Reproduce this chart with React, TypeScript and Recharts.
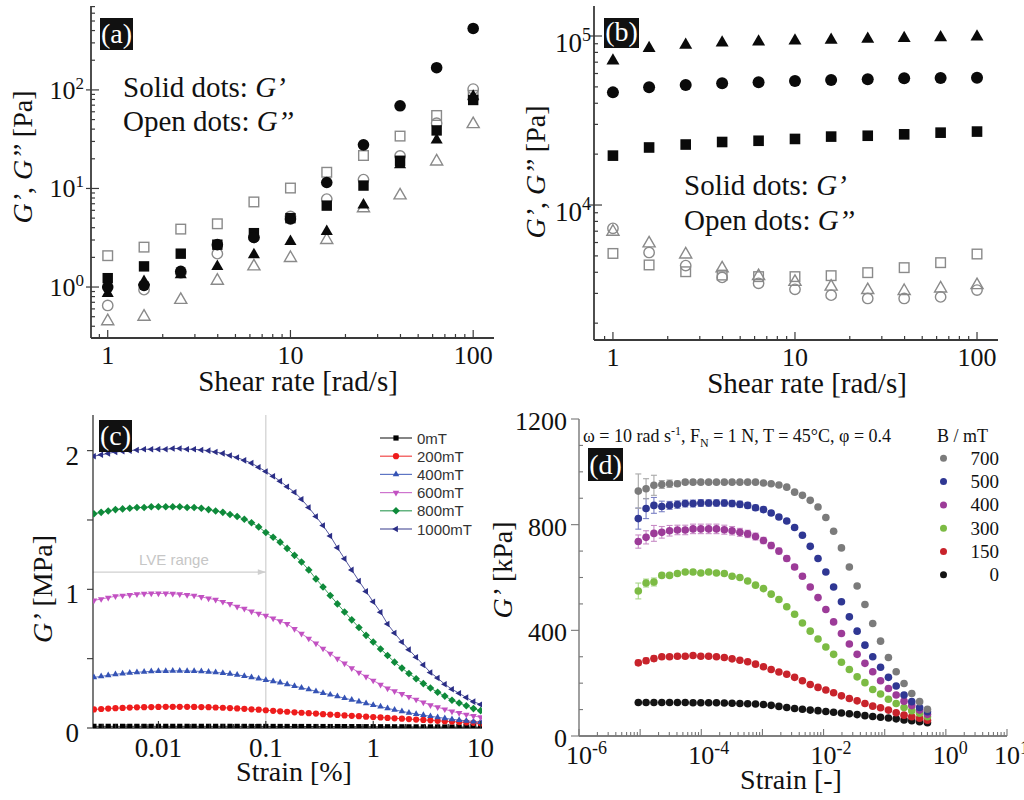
import React from 'react';
import { ScatterChart, Scatter, XAxis, YAxis, ErrorBar, ReferenceLine } from 'recharts';

const SERIF = '"Liberation Serif", "Times New Roman", Times, serif';
const SANS = '"Liberation Sans", Arial, Helvetica, sans-serif';

// ---------------- Panel (a) / (b): shear-rate sweeps ----------------
const SHEAR_RATE = [1, 1.58, 2.51, 3.98, 6.31, 10, 15.8, 25.1, 39.8, 63.1, 100];

const A_GP_CIRCLE = [1.0, 1.04, 1.44, 2.69, 3.18, 4.9, 11.5, 27.7, 69, 168, 420];
const A_GP_SQUARE = [1.23, 1.62, 2.18, 2.69, 3.52, 5.0, 6.7, 10.7, 19.1, 38.8, 79];
const A_GP_TRI = [0.86, 1.14, 1.33, 1.62, 2.13, 2.9, 3.66, 6.8, 17.4, 31, 86];
const A_GPP_CIRCLE = [0.65, 0.94, 1.39, 2.18, 3.2, 5.2, 7.8, 12.3, 21.4, 46, 102];
const A_GPP_SQUARE = [2.08, 2.54, 3.87, 4.38, 7.3, 10.1, 14.6, 21.6, 34, 55, 88];
const A_GPP_TRI = [0.45, 0.5, 0.74, 1.16, 1.62, 1.97, 3.0, 6.3, 8.5, 18.8, 45];

const B_GP_TRI = [71500, 84500, 88400, 91300, 92600, 93900, 94800, 96000, 97100, 98000, 99000];
const B_GP_CIRCLE = [46400, 49800, 51300, 52500, 53200, 54200, 54900, 55400, 56200, 56500, 56700];
const B_GP_SQUARE = [19600, 21900, 22800, 23600, 24000, 24600, 25400, 25700, 26200, 26800, 27200];
const B_GPP_CIRCLE = [7280, 5240, 4380, 3730, 3440, 3170, 2930, 2800, 2800, 2860, 3140];
const B_GPP_TRI = [6950, 5930, 5100, 4220, 3800, 3510, 3290, 3140, 3100, 3210, 3360];
const B_GPP_SQUARE = [5170, 4420, 4030, 3850, 3770, 3770, 3820, 3980, 4260, 4560, 5130];

const AB_XTICKS = [0.9, 1, 2, 3, 4, 5, 6, 7, 8, 9, 10, 20, 30, 40, 50, 60, 70, 80, 90, 100];
const AB_XMAJOR = [1, 10, 100];
const A_YTICKS = [0.4, 0.5, 0.6, 0.7, 0.8, 0.9, 1, 2, 3, 4, 5, 6, 7, 8, 9, 10, 20, 30, 40, 50, 60, 70, 80, 90, 100, 200, 300, 400, 500, 600, 700];
const A_YMAJOR = [1, 10, 100];
const B_YTICKS = [2000, 3000, 4000, 5000, 6000, 7000, 8000, 9000, 10000, 20000, 30000, 40000, 50000, 60000, 70000, 80000, 90000, 100000];
const B_YMAJOR = [10000, 100000];

// ---------------- Panel (c): strain sweeps at various fields ----------------
const STRAIN_C = [0.00251, 0.00293, 0.00341, 0.00398, 0.00464, 0.00541, 0.00631, 0.00736, 0.00858, 0.01, 0.0117, 0.0136, 0.0158, 0.0185, 0.0215, 0.0251, 0.0293, 0.0341, 0.0398, 0.0464, 0.0541, 0.0631, 0.0736, 0.0858, 0.1, 0.117, 0.136, 0.158, 0.185, 0.215, 0.251, 0.293, 0.341, 0.398, 0.464, 0.541, 0.631, 0.736, 0.858, 1, 1.17, 1.36, 1.58, 1.85, 2.15, 2.51, 2.93, 3.41, 3.98, 4.64, 5.41, 6.31, 7.36, 8.58, 10];
const C_1000 = [1.96, 1.97, 1.98, 1.99, 1.995, 2.0, 2.005, 2.01, 2.01, 2.01, 2.01, 2.015, 2.015, 2.01, 2.01, 2.005, 2.0, 1.99, 1.98, 1.965, 1.95, 1.93, 1.91, 1.88, 1.85, 1.815, 1.78, 1.74, 1.70, 1.65, 1.59, 1.525, 1.46, 1.385, 1.30, 1.22, 1.14, 1.06, 0.985, 0.91, 0.835, 0.75, 0.685, 0.62, 0.565, 0.51, 0.455, 0.40, 0.36, 0.315, 0.28, 0.25, 0.22, 0.19, 0.17];
const C_800 = [1.545, 1.555, 1.565, 1.575, 1.58, 1.585, 1.59, 1.59, 1.595, 1.595, 1.595, 1.595, 1.595, 1.59, 1.59, 1.585, 1.575, 1.565, 1.555, 1.54, 1.525, 1.505, 1.48, 1.45, 1.41, 1.375, 1.34, 1.295, 1.245, 1.197, 1.14, 1.075, 1.017, 0.955, 0.895, 0.837, 0.78, 0.725, 0.668, 0.62, 0.57, 0.523, 0.475, 0.432, 0.393, 0.355, 0.32, 0.288, 0.258, 0.23, 0.20, 0.18, 0.16, 0.14, 0.125];
const C_600 = [0.92, 0.93, 0.94, 0.95, 0.955, 0.96, 0.965, 0.968, 0.97, 0.97, 0.97, 0.968, 0.965, 0.96, 0.955, 0.945, 0.935, 0.925, 0.91, 0.895, 0.875, 0.86, 0.84, 0.825, 0.81, 0.79, 0.77, 0.75, 0.715, 0.68, 0.645, 0.61, 0.573, 0.537, 0.50, 0.465, 0.432, 0.40, 0.37, 0.342, 0.313, 0.285, 0.265, 0.245, 0.225, 0.205, 0.185, 0.165, 0.15, 0.135, 0.12, 0.108, 0.097, 0.087, 0.078];
const C_400 = [0.365, 0.372, 0.38, 0.387, 0.393, 0.398, 0.402, 0.405, 0.408, 0.41, 0.411, 0.412, 0.412, 0.411, 0.41, 0.408, 0.405, 0.401, 0.396, 0.39, 0.383, 0.375, 0.366, 0.356, 0.346, 0.337, 0.327, 0.315, 0.303, 0.29, 0.278, 0.265, 0.252, 0.24, 0.228, 0.215, 0.203, 0.19, 0.178, 0.166, 0.154, 0.142, 0.131, 0.12, 0.11, 0.101, 0.093, 0.085, 0.077, 0.07, 0.063, 0.057, 0.052, 0.047, 0.043];
const C_200 = [0.134, 0.137, 0.14, 0.143, 0.145, 0.147, 0.149, 0.15, 0.151, 0.152, 0.153, 0.153, 0.153, 0.153, 0.152, 0.151, 0.15, 0.148, 0.146, 0.144, 0.141, 0.138, 0.135, 0.132, 0.128, 0.124, 0.12, 0.117, 0.113, 0.11, 0.107, 0.104, 0.1, 0.097, 0.094, 0.091, 0.088, 0.085, 0.082, 0.079, 0.076, 0.073, 0.07, 0.067, 0.064, 0.061, 0.058, 0.055, 0.052, 0.049, 0.046, 0.043, 0.04, 0.037, 0.034];
const C_0 = [0.012, 0.012, 0.012, 0.012, 0.012, 0.012, 0.012, 0.012, 0.012, 0.012, 0.012, 0.012, 0.012, 0.012, 0.012, 0.012, 0.012, 0.012, 0.012, 0.012, 0.0118, 0.0117, 0.0116, 0.0115, 0.0114, 0.0113, 0.0112, 0.0111, 0.011, 0.0109, 0.0108, 0.0107, 0.0106, 0.0105, 0.0104, 0.0102, 0.01, 0.0098, 0.0096, 0.0094, 0.0092, 0.009, 0.0088, 0.0086, 0.0084, 0.0082, 0.008, 0.0078, 0.0076, 0.0074, 0.0072, 0.007, 0.0068, 0.0066, 0.0064];
const C_XTICKS = [0.003, 0.004, 0.005, 0.006, 0.007, 0.008, 0.009, 0.01, 0.02, 0.03, 0.04, 0.05, 0.06, 0.07, 0.08, 0.09, 0.1, 0.2, 0.3, 0.4, 0.5, 0.6, 0.7, 0.8, 0.9, 1, 2, 3, 4, 5, 6, 7, 8, 9, 10];
const C_XMAJOR = [0.01, 0.1, 1, 10];
const C_YTICKS = [0, 0.5, 1, 1.5, 2];
const C_YMAJOR = [0, 1, 2];
const C_LEGEND = ['0mT', '200mT', '400mT', '600mT', '800mT', '1000mT'];

// ---------------- Panel (d): strain sweeps, B / mT ----------------
const STRAIN_D = [9.33e-6, 1.25e-5, 1.68e-5, 2.26e-5, 3.03e-5, 4.07e-5, 5.46e-5, 7.33e-5, 9.83e-5, 1.32e-4, 1.77e-4, 2.38e-4, 3.19e-4, 4.28e-4, 5.74e-4, 7.71e-4, 1.04e-3, 1.39e-3, 1.86e-3, 2.5e-3, 3.36e-3, 4.51e-3, 6.05e-3, 8.11e-3, 1.09e-2, 1.46e-2, 1.96e-2, 2.64e-2, 3.54e-2, 4.75e-2, 6.37e-2, 8.55e-2, 0.115, 0.154, 0.207, 0.277, 0.372, 0.5];
const D_700 = [927, 936, 949, 952, 955, 955, 961, 961, 961, 961, 961, 961, 961, 961, 961, 961, 958, 955, 950, 942, 923, 911, 892, 867, 827, 775, 712, 640, 568, 498, 426, 359, 297, 243, 199, 161, 130, 101];
const D_500 = [823, 861, 873, 869, 873, 876, 880, 880, 882, 882, 882, 882, 880, 877, 873, 864, 857, 844, 829, 814, 789, 760, 718, 672, 621, 564, 508, 451, 397, 344, 300, 260, 222, 189, 155, 130, 108, 92];
const D_400 = [736, 752, 767, 771, 777, 780, 780, 784, 784, 784, 784, 781, 777, 771, 765, 755, 740, 721, 700, 672, 640, 605, 564, 524, 479, 432, 388, 348, 309, 275, 243, 209, 180, 155, 132, 115, 98, 82];
const D_300 = [549, 579, 583, 608, 608, 615, 621, 621, 617, 621, 617, 615, 605, 600, 587, 571, 558, 537, 517, 489, 461, 428, 397, 367, 337, 309, 279, 252, 224, 202, 176, 159, 139, 123, 108, 96, 86, 73];
const D_150 = [277, 285, 293, 300, 300, 302, 302, 305, 302, 302, 300, 297, 292, 287, 281, 272, 262, 252, 242, 234, 222, 209, 195, 184, 174, 164, 152, 142, 133, 123, 113, 107, 98, 88, 79, 73, 67, 60];
const D_0 = [127, 127, 127, 127, 127, 127, 127, 126, 126, 126, 126, 125, 124, 123, 122, 121, 119, 116, 112, 108, 104, 101, 98, 96, 93, 90, 87, 84, 81, 77, 74, 71, 68, 65, 61, 58, 54, 50];
const E_700 = [65, 38, 38, 15, 14, 10, 8, 7, 6, 6, 6, 5, 5, 5, 5, 5, 5, 4, 4, 4, 3, 3, 3, 3, 3, 3, 3, 3, 3, 3, 3, 3, 3, 3, 3, 3, 3, 3];
const E_500 = [40, 38, 30, 20, 15, 14, 13, 13, 13, 12, 12, 12, 12, 12, 11, 10, 10, 9, 8, 7, 6, 5, 5, 4, 4, 4, 3, 3, 3, 3, 3, 3, 3, 3, 3, 3, 3, 3];
const E_400 = [25, 25, 30, 22, 20, 18, 18, 18, 18, 18, 18, 17, 16, 15, 14, 13, 12, 12, 11, 10, 9, 8, 7, 6, 5, 5, 4, 4, 4, 3, 3, 3, 3, 3, 3, 3, 3, 3];
const E_300 = [30, 15, 15, 8, 7, 6, 6, 5, 5, 5, 5, 5, 5, 5, 4, 4, 4, 4, 4, 4, 3, 3, 3, 3, 3, 3, 3, 3, 3, 3, 3, 3, 3, 3, 3, 3, 3, 3];
const E_150 = [10, 10, 10, 8, 8, 7, 7, 7, 7, 7, 6, 6, 6, 6, 5, 5, 5, 5, 4, 4, 4, 4, 3, 3, 3, 3, 3, 3, 3, 3, 3, 3, 3, 3, 3, 3, 3, 3];
const E_0 = [3, 3, 3, 3, 3, 3, 3, 3, 3, 3, 3, 3, 3, 3, 3, 3, 3, 3, 3, 3, 3, 3, 3, 3, 3, 3, 3, 3, 3, 3, 3, 3, 3, 3, 3, 3, 3, 3];
const D_XTICKS = [1e-6, 2e-6, 3e-6, 4e-6, 5e-6, 6e-6, 7e-6, 8e-6, 9e-6, 1e-5, 2e-5, 3e-5, 4e-5, 5e-5, 6e-5, 7e-5, 8e-5, 9e-5, 1e-4, 2e-4, 3e-4, 4e-4, 5e-4, 6e-4, 7e-4, 8e-4, 9e-4, 1e-3, 2e-3, 3e-3, 4e-3, 5e-3, 6e-3, 7e-3, 8e-3, 9e-3, 0.01, 0.02, 0.03, 0.04, 0.05, 0.06, 0.07, 0.08, 0.09, 0.1, 0.2, 0.3, 0.4, 0.5, 0.6, 0.7, 0.8, 0.9, 1, 2, 3, 4, 5, 6, 7, 8, 9, 10];
const D_XMAJOR = [1e-6, 1e-5, 1e-4, 1e-3, 0.01, 0.1, 1, 10];
const D_XLABELED = [1e-6, 1e-4, 1e-2, 1, 10];
const D_YTICKS = [0, 100, 200, 300, 400, 500, 600, 700, 800, 900, 1000, 1100, 1200];
const D_YMAJOR = [0, 400, 800, 1200];
const D_LEGEND = ['700', '500', '400', '300', '150', '0'];

// ---------------- helpers ----------------
const pts = (xs: number[], ys: number[]) => xs.map((x, i) => ({ x, y: ys[i] }));
const ptsE = (xs: number[], ys: number[], es: number[]) => xs.map((x, i) => ({ x, y: ys[i], e: es[i] }));

function Mark({ cx, cy, kind, r, fill, stroke, sw }: any) {
  if (cx == null || cy == null) return null;
  const c = { fill, stroke: stroke || 'none', strokeWidth: sw || 0 };
  const k = 0.866;
  switch (kind) {
    case 'circle':
      return <circle cx={cx} cy={cy} r={r} {...c} />;
    case 'square':
      return <rect x={cx - r} y={cy - r} width={2 * r} height={2 * r} {...c} />;
    case 'tri':
      return <polygon points={`${cx},${cy - r} ${cx + k * r},${cy + 0.5 * r} ${cx - k * r},${cy + 0.5 * r}`} {...c} />;
    case 'triDown':
      return <polygon points={`${cx},${cy + r} ${cx + k * r},${cy - 0.5 * r} ${cx - k * r},${cy - 0.5 * r}`} {...c} />;
    case 'triLeft':
      return <polygon points={`${cx - r},${cy} ${cx + 0.5 * r},${cy - k * r} ${cx + 0.5 * r},${cy + k * r}`} {...c} />;
    case 'diamond':
      return <polygon points={`${cx},${cy - r} ${cx + r},${cy} ${cx},${cy + r} ${cx - r},${cy}`} {...c} />;
    default:
      return null;
  }
}

const near = (v: number, arr: number[]) => arr.some((m) => Math.abs(v - m) <= Math.abs(m) * 1e-6 + 1e-12);

function makeTick(o: any) {
  return (props: any) => {
    const { x, y, payload } = props;
    const v = Number(payload && payload.value);
    const maj = near(v, o.majors);
    const li = maj ? o.inMaj : o.inMin;
    const lo = maj ? o.outMaj : o.outMin;
    let c: any;
    if (o.side === 'left') c = { x1: x - lo, x2: x + li, y1: y, y2: y };
    else if (o.side === 'right') c = { x1: x - li, x2: x + lo, y1: y, y2: y };
    else if (o.side === 'top') c = { x1: x, x2: x, y1: y - lo, y2: y + li };
    else c = { x1: x, x2: x, y1: y + lo, y2: y - li };
    const showLabel = o.label && near(v, o.labeled || o.majors);
    return (
      <g>
        {li + lo > 0 ? <line {...c} stroke={o.color} strokeWidth={o.sw} /> : null}
        {showLabel ? o.label(v, x, y) : null}
      </g>
    );
  };
}

const pow10 = (v: number) => String(Math.round(Math.log10(v)));

const supLabelEnd = (fs: number, sfs: number, rise: number, dx: number, dy: number) => (v: number, x: number, y: number) => (
  <text x={x - dx} y={y + dy} textAnchor="end" fontFamily={SERIF} fontSize={fs} fill="#111">
    10<tspan dy={-rise} fontSize={sfs}>{pow10(v)}</tspan>
  </text>
);

const plainLabelBottom = (fs: number, dy: number, fmt: (v: number) => string) => (v: number, x: number, y: number) => (
  <text x={x} y={y + dy} textAnchor="middle" fontFamily={SERIF} fontSize={fs} fill="#111">{fmt(v)}</text>
);

const plainLabelLeft = (fs: number, dx: number, dy: number) => (v: number, x: number, y: number) => (
  <text x={x - dx} y={y + dy} textAnchor="end" fontFamily={SERIF} fontSize={fs} fill="#111">{String(v)}</text>
);

// ---------------- shear-rate panels ----------------
const AB_FRAME = '#3a3a3a';
const OPEN_GRAY = '#8a8a8a';

function ShearPanel({ yDomain, xDomain, yTicks, yMajor, yLabel, margin, yWidth, xHeight, series }: any) {
  const tb = { majors: AB_XMAJOR, inMaj: 8, inMin: 4, outMaj: 0, outMin: 0, color: AB_FRAME, sw: 1.2 };
  const tl = { majors: yMajor, inMaj: 8, inMin: 4, outMaj: 5, outMin: 0, color: AB_FRAME, sw: 1.2 };
  const axisLine = { stroke: AB_FRAME, strokeWidth: 1.8 };
  return (
    <ScatterChart width={512} height={400} margin={margin}>
      <XAxis type="number" dataKey="x" scale="log" domain={xDomain} allowDataOverflow ticks={AB_XTICKS} interval={0}
        height={xHeight} tickSize={0} tickMargin={0} tickLine={false} axisLine={axisLine}
        tick={makeTick({ ...tb, side: 'bottom', label: plainLabelBottom(26, 26, (v) => String(v)) })} />
      <XAxis xAxisId="t" orientation="top" type="number" scale="log" domain={xDomain} allowDataOverflow ticks={AB_XTICKS} interval={0}
        height={0} tickSize={0} tickMargin={0} tickLine={false} axisLine={axisLine}
        tick={makeTick({ ...tb, side: 'top' })} />
      <YAxis type="number" dataKey="y" scale="log" domain={yDomain} allowDataOverflow ticks={yTicks} interval={0}
        width={yWidth} tickSize={0} tickMargin={0} tickLine={false} axisLine={axisLine}
        tick={makeTick({ ...tl, side: 'left', label: yLabel })} />
      <YAxis yAxisId="r" orientation="right" type="number" scale="log" domain={yDomain} allowDataOverflow ticks={yTicks} interval={0}
        width={0} tickSize={0} tickMargin={0} tickLine={false} axisLine={axisLine}
        tick={makeTick({ ...tl, outMaj: 0, side: 'right' })} />
      {series.map((s: any, i: number) => (
        <Scatter key={i} data={pts(SHEAR_RATE, s.values)} isAnimationActive={false}
          shape={(p: any) => <Mark cx={p.cx} cy={p.cy} kind={s.kind} r={s.r} fill={s.open ? 'none' : '#0a0a0a'} stroke={s.open ? OPEN_GRAY : 'none'} sw={s.open ? 1.4 : 0} />} />
      ))}
    </ScatterChart>
  );
}

const A_SERIES = [
  { values: A_GPP_TRI, kind: 'tri', r: 7, open: true },
  { values: A_GPP_SQUARE, kind: 'square', r: 4.8, open: true },
  { values: A_GPP_CIRCLE, kind: 'circle', r: 5.2, open: true },
  { values: A_GP_TRI, kind: 'tri', r: 7, open: false },
  { values: A_GP_SQUARE, kind: 'square', r: 5.2, open: false },
  { values: A_GP_CIRCLE, kind: 'circle', r: 5.8, open: false },
];
const B_SERIES = [
  { values: B_GPP_SQUARE, kind: 'square', r: 4.8, open: true },
  { values: B_GPP_CIRCLE, kind: 'circle', r: 5.2, open: true },
  { values: B_GPP_TRI, kind: 'tri', r: 7, open: true },
  { values: B_GP_TRI, kind: 'tri', r: 7.5, open: false },
  { values: B_GP_SQUARE, kind: 'square', r: 5.3, open: false },
  { values: B_GP_CIRCLE, kind: 'circle', r: 6, open: false },
];

// ---------------- panel (c) ----------------
const C_SERIES = [
  { values: C_0, color: '#000000', kind: 'square', r: 2.6 },
  { values: C_200, color: '#ee1c1c', kind: 'circle', r: 3.1 },
  { values: C_400, color: '#3553b5', kind: 'tri', r: 3.8 },
  { values: C_600, color: '#c251c2', kind: 'triDown', r: 3.8 },
  { values: C_800, color: '#0e8a3a', kind: 'diamond', r: 3.8 },
  { values: C_1000, color: '#2b2e86', kind: 'triLeft', r: 3.8 },
];
const C_FRAME = '#555555';
const LVE_Y = 1.124;
const C_XDOMAIN = [0.00246, 10.3];

function PanelC() {
  const axisLine = { stroke: C_FRAME, strokeWidth: 1.3 };
  return (
    <ScatterChart width={512} height={400} margin={{ top: 15, right: 30, bottom: 0, left: 0 }}>
      <XAxis type="number" dataKey="x" scale="log" domain={C_XDOMAIN} allowDataOverflow ticks={C_XTICKS} interval={0}
        height={72} tickSize={0} tickMargin={0} tickLine={false} axisLine={{ stroke: '#333', strokeWidth: 1.3 }}
        tick={makeTick({ side: 'bottom', majors: C_XMAJOR, inMaj: 7, inMin: 4, outMaj: 0, outMin: 0, color: '#333', sw: 1.1,
          label: plainLabelBottom(27, 29, (v) => String(v)) })} />
      <XAxis xAxisId="t" orientation="top" type="number" scale="log" domain={C_XDOMAIN} allowDataOverflow ticks={C_XMAJOR}
        height={0} tickSize={0} tickMargin={0} tickLine={false} tick={false} axisLine={axisLine} />
      <YAxis type="number" dataKey="y" domain={[0, 2.257]} allowDataOverflow ticks={C_YTICKS} interval={0}
        width={93} tickSize={0} tickMargin={0} tickLine={false} axisLine={{ stroke: '#333', strokeWidth: 1.3 }}
        tick={makeTick({ side: 'left', majors: C_YMAJOR, inMaj: 0, inMin: 0, outMaj: 6, outMin: 6, color: '#333', sw: 1.1,
          label: plainLabelLeft(27, 14, 14) })} />
      <YAxis yAxisId="r" orientation="right" type="number" domain={[0, 2.257]} allowDataOverflow ticks={C_YTICKS}
        width={0} tickSize={0} tickMargin={0} tickLine={false} tick={false} axisLine={axisLine} />
      <ReferenceLine x={0.1} stroke="#cfcfcf" strokeWidth={1.2} ifOverflow="visible" />
      <ReferenceLine segment={[{ x: C_XDOMAIN[0], y: LVE_Y }, { x: 0.1, y: LVE_Y }]} ifOverflow="visible"
        shape={(p: any) => (
          <g>
            <line x1={p.x1} y1={p.y1} x2={p.x2} y2={p.y2} stroke="#cfcfcf" strokeWidth={1.2} />
            <polygon points={`${p.x2},${p.y2} ${p.x2 - 8},${p.y2 - 2.8} ${p.x2 - 8},${p.y2 + 2.8}`} fill="#cfcfcf" />
            <text x={p.x1 + 46} y={p.y1 - 7} fontFamily={SANS} fontSize={15} fill="#c6c6c6">LVE range</text>
          </g>
        )} />
      {C_SERIES.map((s, i) => (
        <Scatter key={i} data={pts(STRAIN_C, s.values)} isAnimationActive={false}
          line={{ stroke: s.color, strokeWidth: 1, strokeOpacity: 0.8 }} lineJointType="linear"
          shape={(p: any) => <Mark cx={p.cx} cy={p.cy} kind={s.kind} r={s.r} fill={s.color} />} />
      ))}
    </ScatterChart>
  );
}

// ---------------- panel (d) ----------------
const D_SERIES = [
  { values: D_0, err: E_0, color: '#141414', ecol: '#666666' },
  { values: D_150, err: E_150, color: '#c8232b', ecol: '#e08088' },
  { values: D_300, err: E_300, color: '#7cbb44', ecol: '#a8d788' },
  { values: D_400, err: E_400, color: '#9c3b98', ecol: '#c88cc6' },
  { values: D_500, err: E_500, color: '#2f3793', ecol: '#7a80c4' },
  { values: D_700, err: E_700, color: '#7b7b7b', ecol: '#a8a8a8' },
];
const D_FRAME = '#777777';

function PanelD() {
  const axisLine = { stroke: D_FRAME, strokeWidth: 1.4 };
  const xt = { majors: D_XMAJOR, inMaj: 7, inMin: 4, outMaj: 0, outMin: 0, color: D_FRAME, sw: 1.1 };
  const yt = { majors: D_YMAJOR, inMaj: 0, inMin: 4, outMaj: 8, outMin: 0, color: D_FRAME, sw: 1.1 };
  return (
    <ScatterChart width={512} height={400} margin={{ top: 19, right: 17, bottom: 0, left: 0 }}>
      <XAxis type="number" dataKey="x" scale="log" domain={[1e-6, 10]} allowDataOverflow ticks={D_XTICKS} interval={0}
        height={64} tickSize={0} tickMargin={0} tickLine={false} axisLine={{ stroke: '#555', strokeWidth: 1.4 }}
        tick={makeTick({ ...xt, side: 'bottom', labeled: D_XLABELED,
          label: (v: number, x: number, y: number) => (
            <text x={x - 13} y={y + 28} fontFamily={SERIF} fontSize={26} fill="#111">
              10<tspan dy={-10} fontSize={18}>{pow10(v)}</tspan>
            </text>
          ) })} />
      <XAxis xAxisId="t" orientation="top" type="number" scale="log" domain={[1e-6, 10]} allowDataOverflow ticks={D_XTICKS} interval={0}
        height={0} tickSize={0} tickMargin={0} tickLine={false} axisLine={axisLine}
        tick={makeTick({ ...xt, inMaj: 6, inMin: 3, side: 'top' })} />
      <YAxis type="number" dataKey="y" domain={[0, 1200]} allowDataOverflow ticks={D_YTICKS} interval={0}
        width={67} tickSize={0} tickMargin={0} tickLine={false} axisLine={axisLine}
        tick={makeTick({ ...yt, side: 'left', label: plainLabelLeft(26, 12, 11) })} />
      <YAxis yAxisId="r" orientation="right" type="number" domain={[0, 1200]} allowDataOverflow ticks={D_YTICKS} interval={0}
        width={0} tickSize={0} tickMargin={0} tickLine={false} axisLine={axisLine}
        tick={makeTick({ ...yt, inMaj: 6, inMin: 4, outMaj: 0, side: 'right' })} />
      {D_SERIES.map((s, i) => (
        <Scatter key={i} data={ptsE(STRAIN_D, s.values, s.err)} isAnimationActive={false}
          shape={(p: any) => <Mark cx={p.cx} cy={p.cy} kind="circle" r={3.8} fill={s.color} />}>
          <ErrorBar dataKey="e" direction="y" width={3} stroke={s.ecol} strokeWidth={1.1} isAnimationActive={false} />
        </Scatter>
      ))}
    </ScatterChart>
  );
}

// ---------------- overlay texts ----------------
function PanelTag({ x, y, w, h, text }: any) {
  return (
    <g>
      <rect x={x} y={y} width={w} height={h} fill="#111" />
      <text x={x + w / 2} y={y + h - 7} textAnchor="middle" fontFamily={SERIF} fontSize={28} fill="#fff">{text}</text>
    </g>
  );
}

function DotsNote({ x, y1, y2 }: any) {
  return (
    <g fontFamily={SERIF} fontSize={29} fill="#111">
      <text x={x} y={y1}>Solid dots: <tspan fontStyle="italic">G’</tspan></text>
      <text x={x} y={y2}>Open dots: <tspan fontStyle="italic">G’’</tspan></text>
    </g>
  );
}

function YTitle({ x, y, fs, children }: any) {
  return (
    <text transform={`translate(${x},${y}) rotate(-90)`} textAnchor="middle" fontFamily={SERIF} fontSize={fs} fill="#111">{children}</text>
  );
}

function Overlay() {
  return (
    <svg width={1024} height={800} style={{ position: 'absolute', left: 0, top: 0, pointerEvents: 'none' }}>
      <PanelTag x={100} y={18} w={33} h={32} text="(a)" />
      <PanelTag x={604} y={18} w={35} h={30} text="(b)" />
      <PanelTag x={99} y={420} w={33} h={32} text="(c)" />
      <PanelTag x={588} y={448} w={35} h={33} text="(d)" />

      <DotsNote x={123} y1={97} y2={131} />
      <DotsNote x={684} y1={195} y2={230} />

      <text x={298} y={391} textAnchor="middle" fontFamily={SERIF} fontSize={29} fill="#111">Shear rate [rad/s]</text>
      <text x={807} y={393} textAnchor="middle" fontFamily={SERIF} fontSize={29} fill="#111">Shear rate [rad/s]</text>
      <text x={294} y={781} textAnchor="middle" fontFamily={SERIF} fontSize={28} fill="#111">Strain [%]</text>
      <text x={791} y={789} textAnchor="middle" fontFamily={SERIF} fontSize={28} fill="#111">Strain [-]</text>

      <YTitle x={32} y={157} fs={28}><tspan fontStyle="italic">G’</tspan>, <tspan fontStyle="italic">G’’</tspan> [Pa]</YTitle>
      <YTitle x={545} y={172} fs={28}><tspan fontStyle="italic">G’</tspan>, <tspan fontStyle="italic">G’’</tspan> [Pa]</YTitle>
      <YTitle x={52} y={589} fs={28}><tspan fontStyle="italic">G’</tspan> [MPa]</YTitle>
      <YTitle x={512} y={570} fs={28}><tspan fontStyle="italic">G’</tspan> [kPa]</YTitle>

      {/* legend (c) */}
      <g>
        {C_SERIES.map((s, i) => {
          const yy = 438 + 18.2 * i;
          return (
            <g key={i}>
              <line x1={380} x2={412} y1={yy} y2={yy} stroke={s.color} strokeWidth={1.2} strokeOpacity={0.8} />
              <Mark cx={396} cy={yy} kind={s.kind} r={s.r} fill={s.color} />
              <text x={417} y={yy + 5.5} fontFamily={SANS} fontSize={15} fill="#333">{C_LEGEND[i]}</text>
            </g>
          );
        })}
      </g>

      {/* annotation + legend (d) */}
      <text x={583} y={442} fontFamily={SERIF} fontSize={18} fill="#111">
        ω = 10 rad s<tspan dy={-7} fontSize={12}>-1</tspan><tspan dy={7}>, F</tspan><tspan dy={5} fontSize={12}>N</tspan><tspan dy={-5}> = 1 N, T = 45°C, φ = 0.4</tspan>
      </text>
      <text x={937} y={442} fontFamily={SERIF} fontSize={18} fill="#111">B / mT</text>
      {D_LEGEND.map((lab, i) => {
        const s = D_SERIES[D_SERIES.length - 1 - i];
        const yy = 458.3 + 23.3 * i;
        return (
          <g key={lab}>
            <circle cx={943.5} cy={yy} r={3.5} fill={s.color} />
            <text x={999} y={yy + 6.5} textAnchor="end" fontFamily={SERIF} fontSize={19} fill="#111">{lab}</text>
          </g>
        );
      })}
    </svg>
  );
}

export default function App() {
  return (
    <div style={{ position: 'absolute', left: 0, top: 0, width: 1024, height: 800, background: '#fff', overflow: 'hidden' }}>
      <div style={{ position: 'absolute', left: 0, top: 0 }}>
        <ShearPanel yDomain={[0.304, 710]} xDomain={[0.81, 130]} yTicks={A_YTICKS} yMajor={A_YMAJOR}
          yLabel={supLabelEnd(26, 17, 10, 7, 9)} margin={{ top: 6, right: 18, bottom: 0, left: 0 }} yWidth={91} xHeight={62}
          series={A_SERIES} />
      </div>
      <div style={{ position: 'absolute', left: 512, top: 0 }}>
        <ShearPanel yDomain={[1590, 150500]} xDomain={[0.787, 130.4]} yTicks={B_YTICKS} yMajor={B_YMAJOR}
          yLabel={supLabelEnd(27, 18, 11, 3, 16)} margin={{ top: 6, right: 26, bottom: 0, left: 0 }} yWidth={82} xHeight={60}
          series={B_SERIES} />
      </div>
      <div style={{ position: 'absolute', left: 0, top: 400 }}>
        <PanelC />
      </div>
      <div style={{ position: 'absolute', left: 512, top: 400 }}>
        <PanelD />
      </div>
      <Overlay />
    </div>
  );
}
